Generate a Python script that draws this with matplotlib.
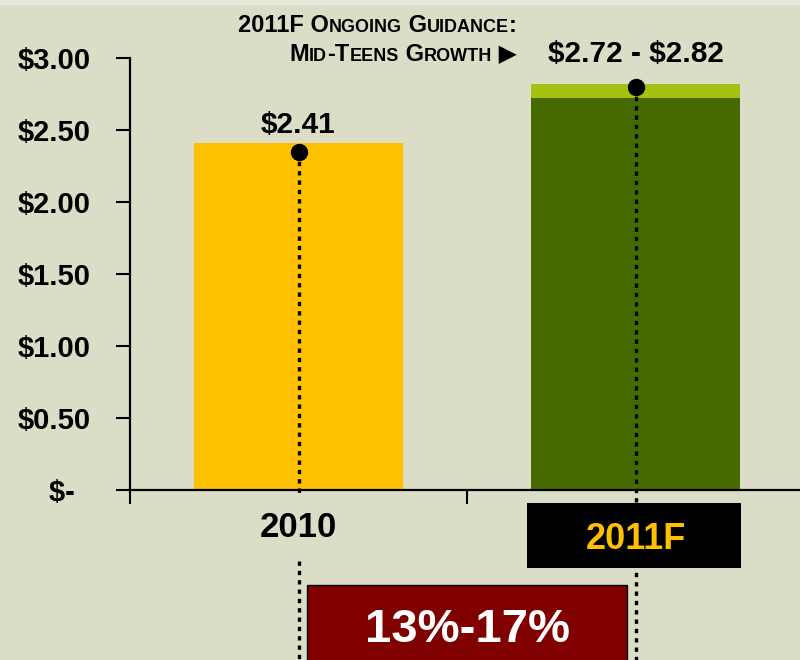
import matplotlib
matplotlib.use("Agg")
import matplotlib.pyplot as plt
from matplotlib.patches import Rectangle
from matplotlib.transforms import offset_copy

plt.rcParams['font.family'] = ['Liberation Sans', 'DejaVu Sans']
plt.rcParams['font.weight'] = 'bold'

# data
categories = ['2010', '2011F']
eps_base = [2.41, 2.72]
eps_range = [0.0, 0.10]
dot_values = [2.35, 2.80]
bar_labels = ['$2.41', '$2.72 - $2.82']
ytick_values = [0, 0.5, 1.0, 1.5, 2.0, 2.5, 3.0]
ytick_labels = ['$-  ', '$0.50', '$1.00', '$1.50', '$2.00', '$2.50', '$3.00']
guidance_lines = ['2011F Ongoing Guidance:', 'Mid-Teens Growth \u25B6']
growth_label = '13%-17%'

BG = '#dcddc7'
YELLOW = '#ffc000'
DARK_GREEN = '#476a00'
LIGHT_GREEN = '#a6c10f'
DARK_RED = '#800000'

fig = plt.figure(figsize=(8, 6.6), dpi=100, facecolor=BG)
# faint lighter band along the top edge
fig.patches.append(Rectangle((0, 1 - 5 / 660), 1, 5 / 660, transform=fig.transFigure,
                             facecolor='#e6e7d9', edgecolor='none'))
ax = fig.add_axes([130 / 800, 170 / 660, 674 / 800, 432 / 660])
ax.set_facecolor(BG)

x = list(range(len(categories)))
ax.bar(x, eps_base, width=0.62, color=[YELLOW, DARK_GREEN], zorder=2)
ax.bar(x, eps_range, width=0.62, bottom=eps_base, color=LIGHT_GREEN, zorder=2)

ax.set_xlim(-0.5, 1.5)
ax.set_ylim(0, 3.0)
for s in ['top', 'right']:
    ax.spines[s].set_visible(False)
for s in ['left', 'bottom']:
    ax.spines[s].set_linewidth(1.6)

ax.set_yticks(ytick_values)
ax.set_yticklabels(ytick_labels, fontsize=21, fontweight='bold')
ax.tick_params(axis='y', direction='out', length=10, width=1.5, pad=18)
ax.set_xticks([-0.5, 0.5, 1.5])
ax.set_xticklabels([])
ax.tick_params(axis='x', direction='out', length=10, width=1.5)

dots = dict(color='black', lw=2.4, dashes=(1.3, 1.5), clip_on=False, zorder=3)
# dotted drop lines from the markers
ax.plot([0, 0], [dot_values[0], -0.04], **dots)
ax.plot([0, 0], [-0.49, -1.25], **dots)
ax.plot([1, 1], [dot_values[1], -1.25], **dots)
ax.plot(x, dot_values, 'o', color='black', markersize=11.5, clip_on=False, zorder=4)

# value labels
ax.text(0, 2.48, bar_labels[0], ha='center', va='baseline', fontsize=21.5,
        parse_math=False, clip_on=False)
ax.text(1, 2.97, bar_labels[1], ha='center', va='baseline', fontsize=21.5,
        parse_math=False, clip_on=False)

# category labels
ax.text(0, -0.326, categories[0], ha='center', va='baseline', fontsize=25, clip_on=False)
ax.add_patch(Rectangle((0.678, -0.542), 0.635, 0.452, facecolor='black',
                       edgecolor='none', clip_on=False, zorder=5))
ax.text(1, -0.41, categories[1], ha='center', va='baseline', fontsize=26,
        color=YELLOW, clip_on=False, zorder=6)

# growth box
ax.add_patch(Rectangle((0.025, -1.3), 0.95, 0.64, facecolor=DARK_RED,
                       edgecolor='black', lw=1, clip_on=False, zorder=5))
ax.text(0.5, -1.056, growth_label, ha='center', va='baseline', fontsize=34,
        color='white', clip_on=False, zorder=6)


def small_caps(x_right, y, text, big, small):
    """Right aligned fake small caps made from text runs."""
    runs = []
    for ch in text:
        size = small if ch.islower() else big
        if runs and runs[-1][1] == size:
            runs[-1][0] += ch.upper()
        else:
            runs.append([ch.upper(), size])
    renderer = fig.canvas.get_renderer()
    pieces = []
    for s, size in runs:
        t = ax.text(x_right, y, s, fontsize=size, ha='left', va='baseline', clip_on=False)
        pieces.append((t, t.get_window_extent(renderer).width))
    total = sum(w for _, w in pieces)
    offset = -total
    for t, w in pieces:
        t.set_transform(offset_copy(ax.transData, fig=fig, x=offset, units='dots'))
        offset += w


small_caps(0.648, 3.18, guidance_lines[0], 17, 13)
small_caps(0.648, 2.979, guidance_lines[1], 17, 13)

fig.savefig('out.png', dpi=100, facecolor=BG)
